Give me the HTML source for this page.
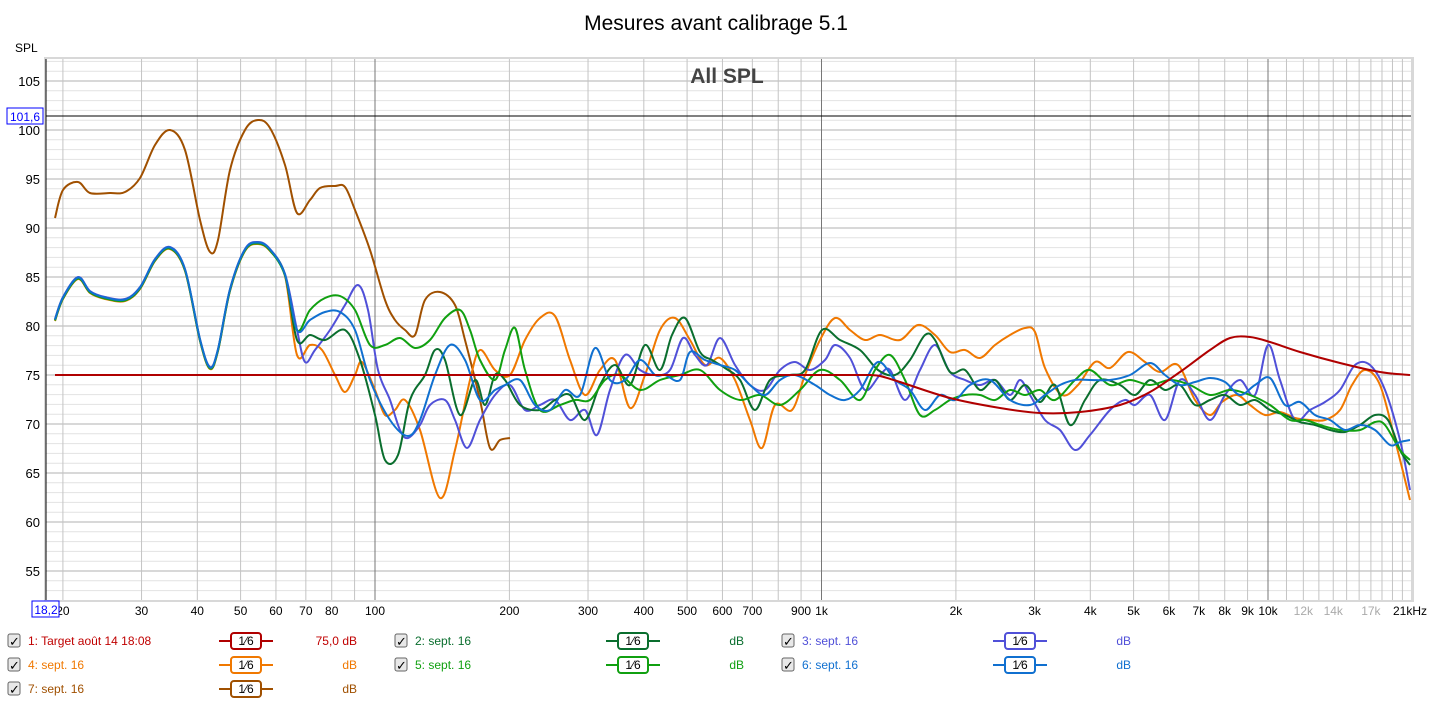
<!DOCTYPE html>
<html><head><meta charset="utf-8"><style>
body{margin:0;background:#fff;width:1433px;height:703px;overflow:hidden;font-family:"Liberation Sans",sans-serif}
svg text{font-family:"Liberation Sans",sans-serif}
</style></head><body>
<svg id="s" width="1433" height="703" xmlns="http://www.w3.org/2000/svg">
<rect x="44" y="57" width="1370" height="545" fill="#d8d8d8"/>
<rect x="46" y="59" width="1365" height="541" fill="#fff"/>
<g id="grid"></g>
<text x="716" y="30" font-size="21" text-anchor="middle">Mesures avant calibrage 5.1</text>
<text x="15" y="52" font-size="12">SPL</text>
<text x="727" y="83" font-size="21" font-weight="bold" fill="#444" text-anchor="middle">All SPL</text>
<g id="curves" fill="none" stroke-width="2"></g>
<line x1="46" y1="116" x2="1411" y2="116" stroke="#000" stroke-width="1"/>
<line x1="46" y1="59" x2="46" y2="600" stroke="#000" stroke-width="1"/>
<rect x="7" y="108" width="36" height="16" fill="#fff" stroke="#0000ff"/>
<text x="25" y="121" font-size="12" fill="#0000ff" text-anchor="middle">101,6</text>
<rect x="32" y="601" width="27" height="16" fill="#fff" stroke="#0000ff"/>
<text x="46" y="614" font-size="12" fill="#0000ff" text-anchor="middle">18,2</text>
<g id="legend" font-size="12"></g>
</svg>
<script>
const NS="http://www.w3.org/2000/svg";
function el(t,a,p){const e=document.createElementNS(NS,t);for(const k in a)e.setAttribute(k,a[k]);p.appendChild(e);return e;}
const g=document.getElementById('grid');
const X=f=>375+446.5*Math.log10(f/100);
const Y=d=>375-(d-75)*9.8;
for(let d=53;d<=107;d++){const y=Y(d);el('line',{x1:46,x2:1411,y1:y,y2:y,stroke:d%5==0?'#b0b0b0':'#e2e2e2','stroke-width':1},g);}
for(let d=55;d<=105;d+=5){const t=el('text',{x:40,y:Y(d)+5,'font-size':13,'text-anchor':'end'},g);t.textContent=d;}
let fs=[];for(let f=20;f<100;f+=10)fs.push(f);for(let f=100;f<1000;f+=100)fs.push(f);for(let f=1000;f<=20000;f+=1000)fs.push(f);
fs.forEach(f=>{const x=X(f);const maj=(f==100||f==1000||f==10000);el('line',{x1:x,x2:x,y1:59,y2:600,stroke:maj?'#777':'#c4c4c4','stroke-width':1},g);});
const labs=[[20,'20'],[30,'30'],[40,'40'],[50,'50'],[60,'60'],[70,'70'],[80,'80'],[100,'100'],[200,'200'],[300,'300'],[400,'400'],[500,'500'],[600,'600'],[700,'700'],[900,'900'],[1000,'1k'],[2000,'2k'],[3000,'3k'],[4000,'4k'],[5000,'5k'],[6000,'6k'],[7000,'7k'],[8000,'8k'],[9000,'9k'],[10000,'10k'],[12000,'12k',1],[14000,'14k',1],[17000,'17k',1]];
labs.forEach(l=>{const t=el('text',{x:X(l[0]),y:615,'font-size':12,'text-anchor':'middle',fill:l[2]?'#aaa':'#000'},g);t.textContent=l[1];});
{const t=el('text',{x:1410,y:615,'font-size':12,'text-anchor':'middle'},g);t.textContent='21kHz';}
function path(p){let d='M'+p[0]+','+p[1];const n=p.length/2;for(let i=0;i<n-1;i++){const i0=Math.max(i-1,0),i2=i+1,i3=Math.min(i+2,n-1);const x0=p[2*i0],y0=p[2*i0+1],x1=p[2*i],y1=p[2*i+1],x2=p[2*i2],y2=p[2*i2+1],x3=p[2*i3],y3=p[2*i3+1];d+=' C'+(x1+(x2-x0)/6)+','+(y1+(y2-y0)/6)+' '+(x2-(x3-x1)/6)+','+(y2-(y3-y1)/6)+' '+x2+','+y2;}return d;}
const low=[55,320,63,298,78,278,90,292,105,298,125,300,140,288,155,260,170,248,185,270,200,340,210,368,218,350,230,290,245,250,258,243,270,250,285,275];
const C={
brown:['#a05000',[55,218,63,190,78,182,90,193,110,193,125,192,140,178,155,145,170,130,185,150,200,220,210,252,218,240,230,170,245,130,258,120,270,128,285,165,297,213,310,200,320,188,335,186,345,187,355,210,370,250,385,300,395,320,405,330,415,335,425,300,440,292,455,305,465,340,480,400,490,448,500,440,510,438]],
orange:['#f07800',[297,355,310,345,322,350,335,375,345,392,355,375,362,362,375,390,385,415,395,410,405,400,420,430,440,498,455,450,470,380,480,350,495,370,510,375,525,340,540,318,555,316,570,360,585,395,600,370,615,360,630,408,645,375,660,330,675,318,690,340,705,365,720,358,735,380,750,420,762,448,775,405,792,410,805,375,820,340,835,318,850,330,865,340,880,335,900,340,918,325,935,335,950,352,965,350,980,358,995,345,1010,335,1025,328,1035,332,1045,368,1062,395,1078,385,1095,362,1110,368,1128,352,1145,362,1160,372,1178,365,1195,400,1210,415,1222,402,1237,395,1250,405,1265,415,1280,412,1295,418,1310,420,1325,420,1340,410,1352,385,1365,370,1380,385,1395,440,1410,500]],
purple:['#5050d8',[297,330,305,362,315,350,330,330,345,305,358,285,368,310,378,370,390,400,400,430,408,438,420,425,430,405,445,400,455,420,467,448,480,420,495,395,510,385,525,410,540,405,555,400,570,420,585,410,597,435,610,390,625,355,640,370,655,375,670,370,683,338,695,355,707,365,720,338,735,365,750,385,765,390,780,370,795,362,810,370,825,360,835,345,850,358,865,390,880,375,890,370,905,400,920,370,935,345,950,372,965,380,980,385,995,380,1010,395,1020,380,1030,395,1045,420,1060,430,1075,450,1090,435,1110,410,1125,400,1135,405,1150,395,1165,420,1180,380,1195,395,1210,420,1225,395,1240,380,1255,395,1268,345,1280,380,1295,420,1310,410,1325,402,1340,390,1355,365,1370,365,1385,390,1400,440,1410,490]],
dgreen:['#0a6e2e',[297,340,310,335,325,340,345,330,360,360,375,415,385,460,398,455,410,400,425,375,435,350,445,360,460,415,475,380,485,405,495,375,505,380,520,405,540,410,555,400,570,395,585,420,600,385,615,365,630,385,645,345,660,370,672,335,685,318,700,352,712,360,725,368,740,380,755,410,770,380,790,375,805,370,822,330,840,340,860,350,878,370,895,375,910,360,925,335,935,340,950,372,965,370,980,390,995,380,1010,400,1025,385,1040,402,1055,385,1070,425,1085,400,1100,380,1120,385,1135,395,1150,380,1165,390,1180,385,1195,405,1210,400,1225,395,1240,405,1255,400,1270,410,1285,415,1300,422,1315,425,1330,430,1345,432,1360,425,1375,415,1388,420,1400,450,1410,465]],
green:['#10a010',[297,330,310,310,325,298,340,296,355,310,370,345,385,345,400,338,415,348,430,340,445,318,460,310,470,330,480,360,495,380,505,350,515,328,525,370,540,410,560,405,575,400,590,400,605,380,620,375,640,390,660,380,680,375,700,370,720,390,740,400,760,395,780,405,800,390,820,370,840,380,860,400,875,370,890,355,905,380,920,415,935,410,950,400,965,395,980,395,995,400,1010,390,1025,395,1040,390,1055,400,1075,380,1090,370,1110,385,1130,380,1150,385,1170,380,1190,385,1210,395,1230,390,1250,395,1270,405,1290,420,1305,420,1320,425,1340,430,1360,430,1375,422,1385,425,1400,450,1410,460]],
blue:['#1070d0',[297,330,310,320,325,312,340,312,355,330,370,380,390,420,408,436,420,420,435,375,450,345,465,360,480,400,495,390,505,385,520,380,535,405,550,410,565,390,580,395,595,348,610,380,625,380,640,360,655,375,665,375,680,380,690,352,705,360,720,365,735,370,750,385,765,395,780,380,795,375,815,385,830,395,845,400,860,390,878,362,895,380,910,390,925,410,940,395,955,400,970,385,990,380,1010,400,1030,405,1045,395,1060,385,1075,380,1090,380,1110,380,1130,375,1150,363,1165,375,1180,385,1195,382,1210,378,1225,382,1240,395,1255,385,1270,378,1285,405,1300,402,1315,415,1330,420,1345,430,1360,425,1375,430,1390,445,1400,442,1410,440]]
};
const cv=document.getElementById('curves');
el('path',{d:path(C.brown[1]),stroke:C.brown[0]},cv);
[['orange',1],['purple',-1],['dgreen',0],['green',0.5],['blue',-0.5]].forEach(([k,o])=>{const lp=low.map((v,i)=>i%2?v+o:v);el('path',{d:path(lp.concat(C[k][1])),stroke:C[k][0]},cv);});
el('path',{d:'M55,375 L870,375 '+path([870,375,880,376,900,382,950,398,1000,408,1040,413,1080,412,1120,405,1150,392,1180,372,1210,350,1230,338,1250,337,1270,342,1300,352,1340,363,1380,372,1410,375]).replace('M',' L'),stroke:'#b00000'},cv);
const lg=document.getElementById('legend');
const L=[[0,0,'#c00000','1: Target août 14 18:08','75,0 dB','#b00000'],[1,0,'#0a6e2e','2: sept. 16','dB','#0a6e2e'],[2,0,'#5050d8','3: sept. 16','dB','#5050d8'],
[0,1,'#f07800','4: sept. 16','dB','#f07800'],[1,1,'#10a010','5: sept. 16','dB','#10a010'],[2,1,'#1070d0','6: sept. 16','dB','#1070d0'],[0,2,'#a05000','7: sept. 16','dB','#a05000']];
L.forEach(([c,r,col,name,db,sc])=>{const x0=8+c*387,y=641+r*24;
el('rect',{x:x0,y:y-7,width:12,height:13,rx:2,fill:'#e8e8e8',stroke:'#666'},lg);
const ck=el('text',{x:x0+1,y:y+5,'font-size':13,fill:'#000'},lg);ck.textContent='✓';
const t=el('text',{x:x0+20,y:y+4,fill:col},lg);t.textContent=name;
el('line',{x1:x0+211,x2:x0+265,y1:y,y2:y,stroke:sc,'stroke-width':2},lg);
el('rect',{x:x0+223,y:y-8,width:30,height:16,rx:3,fill:'#fff',stroke:sc,'stroke-width':2},lg);
const f=el('text',{x:x0+238,y:y+4,'text-anchor':'middle',fill:'#000'},lg);f.textContent='1⁄6';
const d=el('text',{x:x0+349,y:y+4,'text-anchor':'end',fill:col},lg);d.textContent=db;});
</script>
</body></html>
